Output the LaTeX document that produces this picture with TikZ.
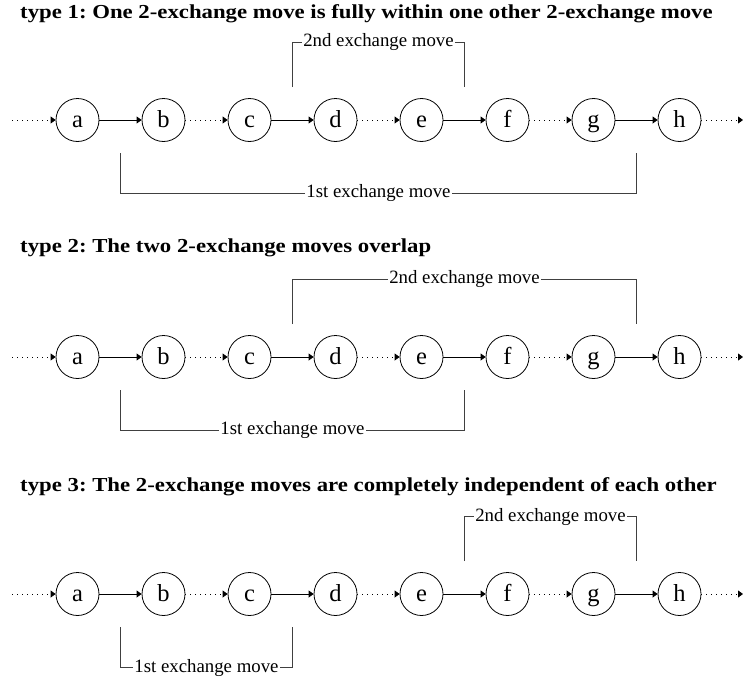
\documentclass[tikz,border=0pt]{standalone}
\usepackage{fontspec}
\setmainfont{Liberation Serif}
\newfontfamily\headfont[FakeStretch=1.15]{Liberation Serif Bold}
\usetikzlibrary{arrows.meta, calc}
\frenchspacing

\tikzset{
  state/.style={draw, circle, minimum size=43pt, inner sep=0pt, line width=0.8pt,
    text height=14pt, text depth=0pt, font=\fontsize{24.5}{26}\selectfont},
  link/.style={-{Triangle[length=5pt,width=7pt]}, line width=0.8pt},
  gap/.style={link, dash pattern=on 1pt off 4pt},
  bracket/.style={draw=black!75, line width=0.8pt},
  movelabel/.style={fill=white, inner xsep=1.5pt, inner ysep=0pt, yshift=1.5pt,
    font=\fontsize{18.8}{20}\selectfont},
  heading/.style={anchor=west, inner sep=0pt, font=\headfont\fontsize{19.8}{22}\selectfont}
}

\begin{document}
\begin{tikzpicture}[x=1pt, y=1pt]
  \useasboundingbox (0,0) rectangle (744,-680);

  % the three chains a..h
  \foreach \r/\y in {1/-120, 2/-357, 3/-594} {
    \foreach \n [count=\i from 0] in {a,b,c,d,e,f,g,h}
      \node[state] (\n\r) at (77.5+86*\i, \y) {\n};
    \coordinate (s\r) at (12, \y);
    \coordinate (t\r) at (743, \y);
    \foreach \p/\q/\k in {s/a/gap, a/b/link, b/c/gap, c/d/link, d/e/gap,
                          e/f/link, f/g/gap, g/h/link, h/t/gap}
      \draw[\k] (\p\r) -- (\q\r);
  }

  % type 1
  \node[heading] (head1) at (20,-14)
    {type 1: One 2-exchange move is fully within one other 2-exchange move};
  \node[movelabel] (up1) at ($(c1)!.5!(f1) + (0,76)$) {2nd exchange move};
  \draw[bracket] ($(c1)!.5!(d1) + (0,33)$) |- (up1.west);
  \draw[bracket] (up1.east) -| ($(e1)!.5!(f1) + (0,33)$);
  \node[movelabel] (low1) at ($(a1)!.5!(h1) - (0,75)$) {1st exchange move};
  \draw[bracket] ($(a1)!.5!(b1) - (0,33)$) |- (low1.west);
  \draw[bracket] (low1.east) -| ($(g1)!.5!(h1) - (0,33)$);

  % type 2
  \node[heading] (head2) at (20,-248)
    {type 2: The two 2-exchange moves overlap};
  \node[movelabel] (up2) at ($(d2)!.5!(g2) + (0,76)$) {2nd exchange move};
  \draw[bracket] ($(c2)!.5!(d2) + (0,33)$) |- (up2.west);
  \draw[bracket] (up2.east) -| ($(g2)!.5!(h2) + (0,33)$);
  \node[movelabel] (low2) at ($(b2)!.5!(e2) - (0,75)$) {1st exchange move};
  \draw[bracket] ($(a2)!.5!(b2) - (0,33)$) |- (low2.west);
  \draw[bracket] (low2.east) -| ($(e2)!.5!(f2) - (0,33)$);

  % type 3
  \node[heading] (head3) at (20,-487)
    {type 3: The 2-exchange moves are completely independent of each other};
  \node[movelabel] (up3) at ($(f3)!.5!(g3) + (0,76)$) {2nd exchange move};
  \draw[bracket] ($(e3)!.5!(f3) + (0,33)$) |- (up3.west);
  \draw[bracket] (up3.east) -| ($(g3)!.5!(h3) + (0,33)$);
  \node[movelabel] (low3) at ($(b3)!.5!(c3) - (0,75)$) {1st exchange move};
  \draw[bracket] ($(a3)!.5!(b3) - (0,33)$) |- (low3.west);
  \draw[bracket] (low3.east) -| ($(c3)!.5!(d3) - (0,33)$);
\end{tikzpicture}
\end{document}
